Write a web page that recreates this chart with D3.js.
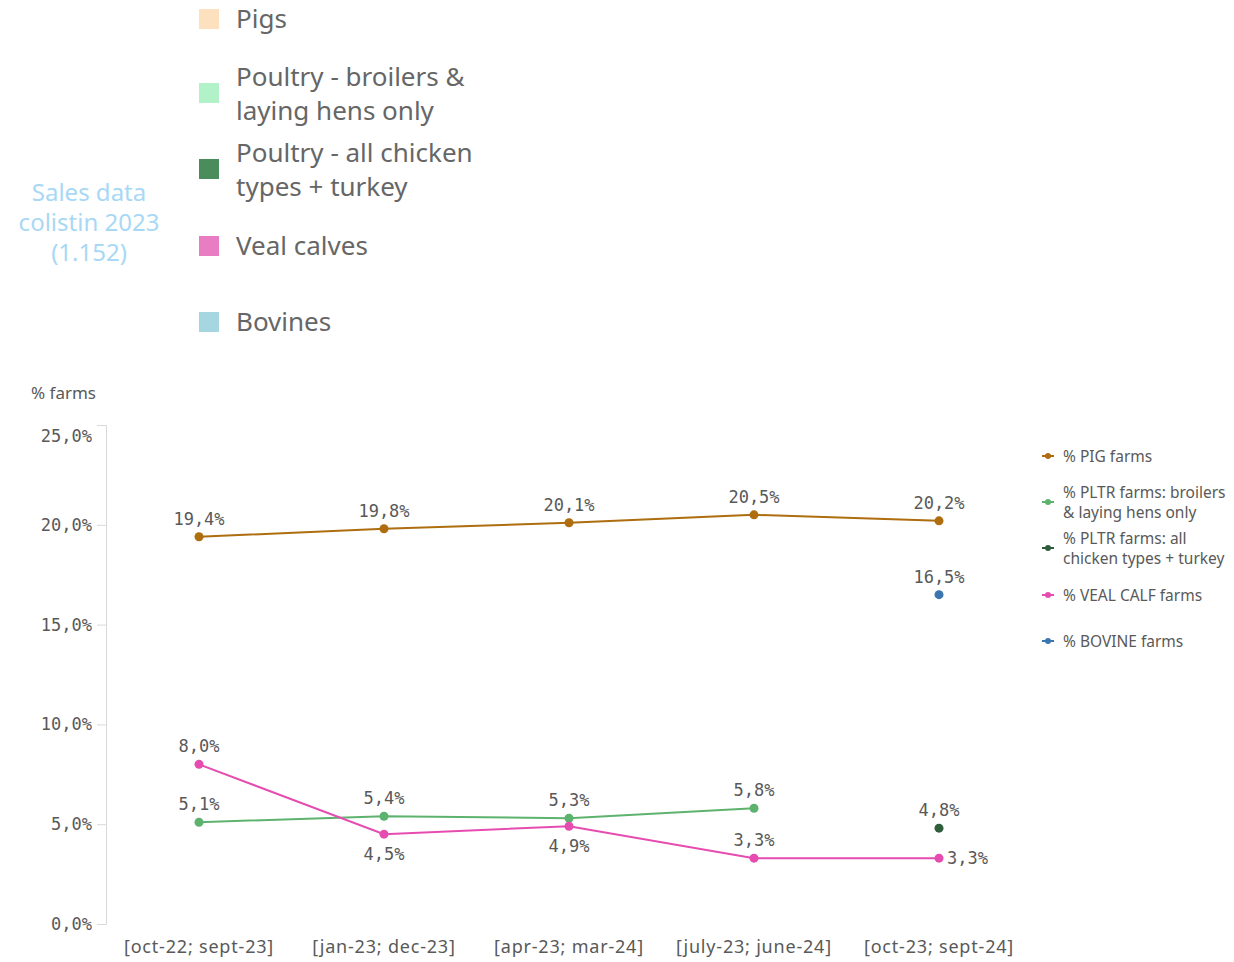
<!DOCTYPE html>
<html><head><meta charset="utf-8">
<script src="https://cdn.jsdelivr.net/npm/d3@7"></script>
<style>body{margin:0;background:#fff;} svg{font-family:"Noto Sans",sans-serif;}</style>
</head><body><svg id="c" width="1234" height="962"></svg>
<script>
const categories = ["[oct-22; sept-23]","[jan-23; dec-23]","[apr-23; mar-24]","[july-23; june-24]","[oct-23; sept-24]"];
const pigFarms = [19.4, 19.8, 20.1, 20.5, 20.2];
const pltrBroilers = [5.1, 5.4, 5.3, 5.8, null];
const pltrAll = [null, null, null, null, 4.8];
const vealFarms = [8.0, 4.5, 4.9, 3.3, 3.3];
const bovineFarms = [null, null, null, null, 16.5];
const yTicks = [0, 5, 10, 15, 20, 25];
const seriesNames = ["% PIG farms", "% PLTR farms: broilers\n& laying hens only", "% PLTR farms: all\nchicken types + turkey", "% VEAL CALF farms", "% BOVINE farms"];
const topLegend = ["Pigs", "Poultry - broilers &\nlaying hens only", "Poultry - all chicken\ntypes + turkey", "Veal calves", "Bovines"];
const topLegendColors = ["#fde0bd", "#b2f2c8", "#4a8c5c", "#e87dc3", "#a6d6e0"];

const colors = ["#ae6d0e", "#5db36e", "#2e5e3a", "#e64caf", "#3b75af"];
const seriesData = [pigFarms, pltrBroilers, pltrAll, vealFarms, bovineFarms];
// label placement per point: "a" above, "b" below, "r" right
const labelPos = [
  ["a","a","a","a","a"],
  ["a","a","a","a","a"],
  ["a","a","a","a","a"],
  ["a","b","b","a","r"],
  ["a","a","a","a","a"]
];

const svg = d3.select("#c");
const x = d3.scalePoint().domain(categories).range([199, 939]);
const y = d3.scaleLinear().domain([0, 25]).range([924, 425]);
const mono = "'DejaVu Sans Mono', monospace";
const fmt = v => v.toFixed(1).replace(".", ",") + "%";

// y axis
const ya = svg.append("g").attr("transform","translate(106,0)")
  .call(d3.axisLeft(y).tickValues(yTicks).tickFormat(fmt).tickSize(9).tickPadding(5));
ya.select(".domain").attr("stroke","#d9d9d9");
ya.selectAll(".tick line").attr("stroke","#d9d9d9");
ya.selectAll(".tick text").style("font-family", mono).style("font-size", "17px").attr("fill","#595959")
  .attr("dy", d => d === 25 ? "0.95em" : "0.32em");

// x labels
svg.append("g").selectAll("text").data(categories).join("text")
  .attr("x", d => x(d)).attr("y", 953).attr("text-anchor","middle")
  .style("font-size", "18px").style("letter-spacing", "0.8px").attr("fill","#595959").text(d => d);

svg.append("text").attr("x", 31).attr("y", 399).style("font-size", "17px").attr("fill","#595959").text("% farms");

// series
seriesData.forEach((data, si) => {
  const pts = data.map((v, i) => ({v, c: categories[i], i})).filter(d => d.v !== null);
  const line = d3.line().x(d => x(d.c)).y(d => y(d.v));
  if (pts.length > 1) svg.append("path").datum(pts).attr("d", line)
    .attr("fill","none").attr("stroke", colors[si]).attr("stroke-width", 2);
  svg.append("g").selectAll("circle").data(pts).join("circle")
    .attr("cx", d => x(d.c)).attr("cy", d => y(d.v)).attr("r", 4.5).attr("fill", colors[si]);
  svg.append("g").selectAll("text").data(pts).join("text")
    .attr("x", d => labelPos[si][d.i] === "r" ? x(d.c) + 8 : x(d.c))
    .attr("y", d => { const p = labelPos[si][d.i]; return p === "a" ? y(d.v) - 12 : p === "b" ? y(d.v) + 26 : y(d.v) + 6; })
    .attr("text-anchor", d => labelPos[si][d.i] === "r" ? "start" : "middle")
    .style("font-family", mono).style("font-size", "17px").attr("fill","#595959")
    .text(d => fmt(d.v));
});

// right legend
const legY = [456, 502, 548, 595, 641];
seriesNames.forEach((n, i) => {
  const g = svg.append("g").attr("transform", `translate(1048,${legY[i]})`);
  g.append("line").attr("x1",-6).attr("x2",6).attr("stroke",colors[i]).attr("stroke-width",2);
  g.append("circle").attr("r",3).attr("fill",colors[i]);
  const lines = n.split("\n");
  const off = lines.length > 1 ? -10 : 0;
  lines.forEach((l, k) => g.append("text").attr("x", 15).attr("y", off + k*20 + 6)
    .style("font-size", "15.5px").attr("fill","#595959").text(l));
});

// top legend
const topY = [19, 93, 169, 246, 322];
topLegend.forEach((n, i) => {
  svg.append("rect").attr("x",199).attr("y",topY[i]-10).attr("width",20).attr("height",20).attr("fill",topLegendColors[i]);
  const lines = n.split("\n");
  const off = lines.length > 1 ? -16 : 0;
  lines.forEach((l, k) => svg.append("text").attr("x",236).attr("y", topY[i] + off + k*34 + 9)
    .style("font-size", "26px").attr("fill","#666").text(l));
});

const sales = ["Sales data", "colistin 2023", "(1.152)"];
sales.forEach((l, k) => svg.append("text").attr("x", 89).attr("y", 201 + k*30).attr("text-anchor","middle")
  .style("font-size", "24px").attr("fill","#a8d8f5").text(l));
</script></body></html>
